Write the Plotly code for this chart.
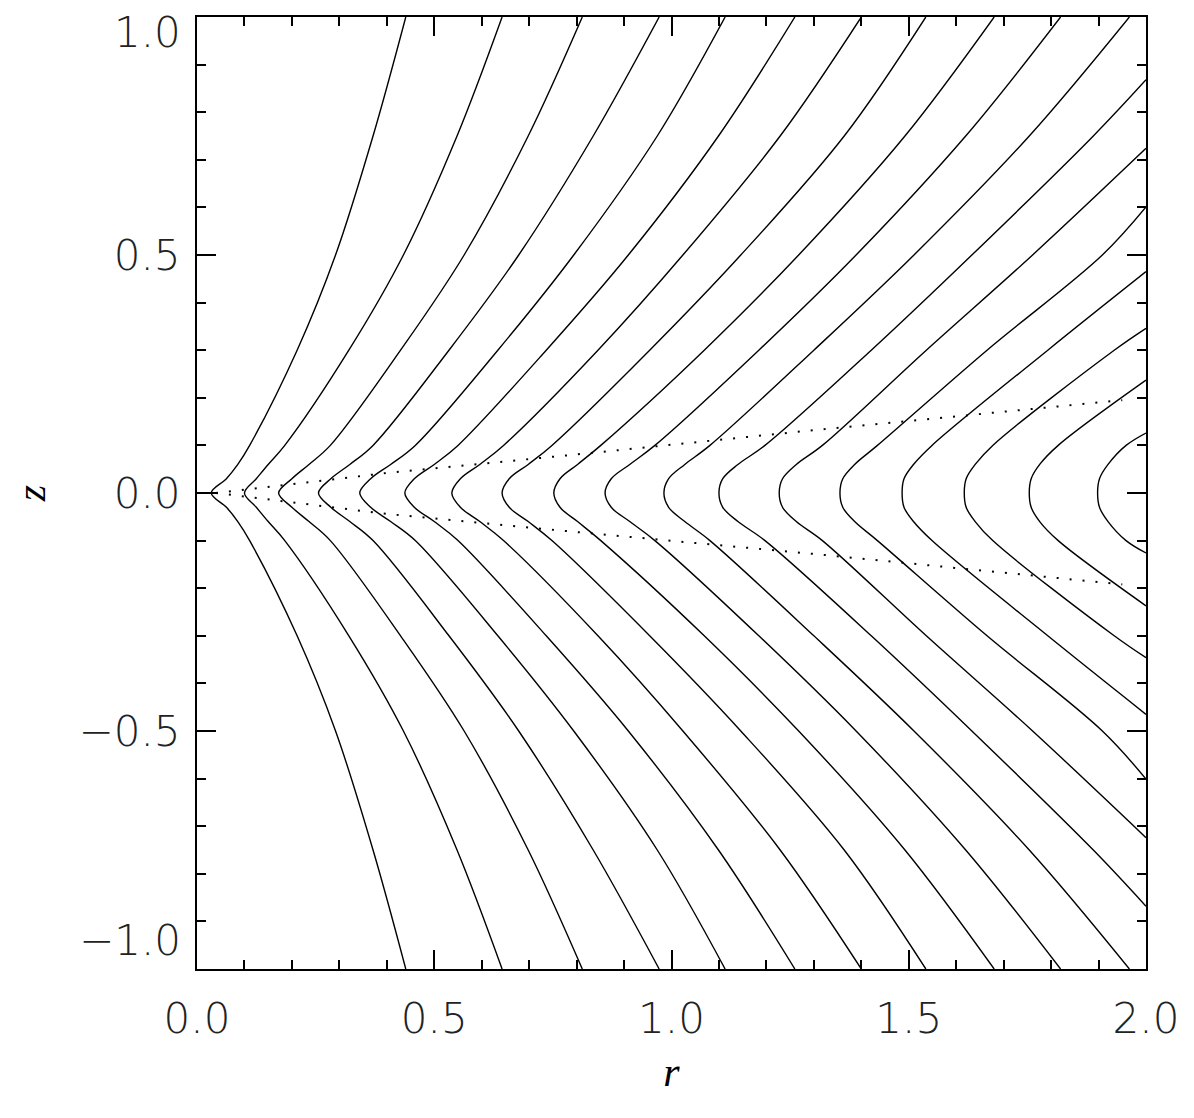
import plotly.graph_objects as go

# Field lines: r where each line crosses height z (upper half).
# The lower half is the mirror image (z -> -z).
z_levels = [0.0, 0.03, 0.06, 0.1, 0.3, 0.5, 0.75, 1.0]

r_z000 = [0.030, 0.100, 0.172, 0.256, 0.343, 0.438, 0.537, 0.643, 0.752,
          0.860, 0.984, 1.100, 1.227, 1.355, 1.486, 1.617, 1.754, 1.898]
r_z003 = [0.062, 0.125, 0.200, 0.282, 0.366, 0.458, 0.555, 0.658, 0.765,
          0.873, 0.994, 1.108, 1.234, 1.361, 1.490, 1.621, 1.758, 1.902]
r_z006 = [0.086, 0.150, 0.236, 0.322, 0.408, 0.500, 0.596, 0.698, 0.802,
          0.912, 1.028, 1.140, 1.263, 1.386, 1.510, 1.640, 1.776, 1.920]
r_z010 = [0.111, 0.185, 0.281, 0.371, 0.460, 0.550, 0.646, 0.748, 0.851,
          0.965, 1.081, 1.197, 1.318, 1.434, 1.549, 1.677, 1.815, 1.958]
r_z030 = [0.211, 0.320, 0.429, 0.531, 0.634, 0.736, 0.845, 0.954, 1.069,
          1.184, 1.300, 1.421, 1.537, 1.665, 1.793, 1.933, None, None]
r_z050 = [0.292, 0.435, 0.563, 0.678, 0.794, 0.909, 1.024, 1.146, 1.268,
          1.389, 1.511, 1.633, 1.761, 1.908, None, None, None, None]
r_z075 = [0.371, 0.548, 0.698, 0.835, 0.970, 1.099, 1.229, 1.364, 1.492,
          1.620, 1.754, 1.889, None, None, None, None, None, None]
r_z100 = [0.440, 0.643, 0.812, 0.974, 1.113, 1.260, 1.400, 1.536, 1.680,
          1.820, 1.965, None, None, None, None, None, None, None]

# height where the outer lines leave through the right edge (r = 2)
edge_r = 2.0
edge_z = [None] * 11 + [0.868, 0.724, 0.601, 0.465, 0.346, 0.237, 0.126]

# dotted lines
dot_r = [0.04, 0.40, 0.80, 1.30, 1.95]
dot_z_up = [0.0, 0.042, 0.081, 0.132, 0.195]
dot_z_lo = [0.0, -0.044, -0.082, -0.128, -0.192]

# y ticks; the end labels sit inside the frame, as in the original
z_tick_vals = [-1.0, -0.5, 0.0, 0.5, 1.0]
z_tick_text = ["", "\u22120.5", "0.0", "0.5", ""]
z_end_labels = [(1.0, "1.0"), (-1.0, "\u22121.0")]
r_tick_vals = [0.0, 0.5, 1.0, 1.5, 2.0]

rows = [r_z000, r_z003, r_z006, r_z010, r_z030, r_z050, r_z075, r_z100]

fig = go.Figure()

for i in range(len(r_z000)):
    up_r, up_z = [], []
    for z, row in zip(z_levels, rows):
        if row[i] is not None:
            up_r.append(row[i])
            up_z.append(z)
    if edge_z[i] is not None:
        up_r.append(edge_r)
        up_z.append(edge_z[i])
    xs = up_r[::-1][:-1] + up_r
    ys = [-z for z in up_z[::-1][:-1]] + up_z
    fig.add_trace(go.Scatter(x=xs, y=ys, mode="lines",
                             line=dict(color="black", width=1.4, shape="spline", smoothing=1.0),
                             hoverinfo="skip", showlegend=False))

for dz in (dot_z_up, dot_z_lo):
    fig.add_trace(go.Scatter(x=dot_r, y=dz, mode="lines",
                             line=dict(color="black", width=2, dash="2px,11px"),
                             hoverinfo="skip", showlegend=False))

tick_font = dict(family="DejaVu Sans", size=42, color="#222", weight=200)
title_font = dict(family="Liberation Serif", size=42, color="black", style="italic")

axis_common = dict(
    showline=True, linecolor="black", linewidth=2, mirror="ticks",
    ticks="inside", ticklen=19, tickwidth=1.5, tickcolor="black",
    showgrid=False, zeroline=False, tickfont=tick_font,
    ticklabeloverflow="allow", automargin=False,
    minor=dict(ticks="inside", ticklen=9, tickwidth=1.5, tickcolor="black",
               tick0=0, dtick=0.1, showgrid=False),
)

fig.update_xaxes(range=[0, 2], tickmode="array", tickvals=r_tick_vals, tickformat=".1f",
                 ticklabelstandoff=12,
                 title=dict(text="r", font=title_font, standoff=14), **axis_common)
fig.update_yaxes(range=[-1, 1], tickmode="array", tickvals=z_tick_vals, ticktext=z_tick_text,
                 ticklabelstandoff=6,
                 title=dict(text="z", font=title_font, standoff=46), **axis_common)

for zv, txt in z_end_labels:
    fig.add_annotation(x=0, xref="paper", y=zv, yref="y", text=txt, showarrow=False,
                       xanchor="right", xshift=-14,
                       yanchor="top" if zv > 0 else "bottom", yshift=11 if zv > 0 else 2,
                       font=tick_font)

fig.update_layout(
    width=1186, height=1110,
    margin=dict(l=189, r=48, t=9, b=149),
    paper_bgcolor="white", plot_bgcolor="white",
)

fig.write_html("out.html")
